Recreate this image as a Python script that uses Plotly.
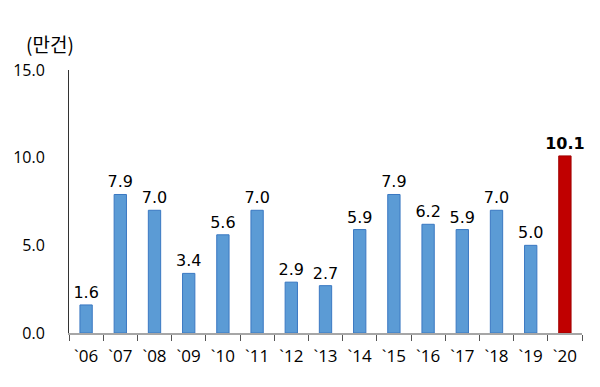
import plotly.graph_objects as go

years = ["`06", "`07", "`08", "`09", "`10", "`11", "`12", "`13", "`14", "`15", "`16", "`17", "`18", "`19", "`20"]
values = [1.6, 7.9, 7.0, 3.4, 5.6, 7.0, 2.9, 2.7, 5.9, 7.9, 6.2, 5.9, 7.0, 5.0, 10.1]
y_ticks = [0, 5, 10, 15]
y_tick_labels = ["0.0", "5.0", "10.0", "15.0"]
unit_label = "(만건)"

blue = "#5B9BD5"
blue_line = "#3A78C2"
red = "#C00000"
colors = [blue] * (len(values) - 1) + [red]
line_colors = [blue_line] * (len(values) - 1) + ["#A00000"]
texts = [f"{v:.1f}" for v in values[:-1]] + [f"<b>{values[-1]:.1f}</b>"]

font_family = "Noto Sans CJK KR, Noto Sans, sans-serif"
latin_font = "DejaVu Sans, sans-serif"
axis_font = "Open Sans, Noto Sans, sans-serif"

fig = go.Figure(go.Bar(
    x=years, y=values,
    marker=dict(color=colors, line=dict(color=line_colors, width=1)),
    text=texts, textposition="outside", cliponaxis=False, constraintext="none",
    textfont=dict(size=16, color="black", family=latin_font),
))

fig.update_layout(
    width=600, height=387,
    margin=dict(l=61, r=26, t=62, b=62, autoexpand=False),
    plot_bgcolor="white", paper_bgcolor="white",
    bargap=0.64, showlegend=False,
    font=dict(family=font_family, color="black"),
    xaxis=dict(
        showline=True, linecolor="#A6A6A6", linewidth=2,
        ticks="outside", tickson="boundaries", ticklen=6, tickcolor="#555555",
        tickfont=dict(size=17, color="black", family=axis_font), showgrid=False,
        tickangle=0, automargin=False, ticklabelstandoff=7,
    ),
    yaxis=dict(
        range=[0, 15], tickvals=y_ticks, ticktext=y_tick_labels,
        showline=True, linecolor="#333333", linewidth=1,
        ticks="", showgrid=False, zeroline=False, automargin=False,
        tickfont=dict(size=16, color="black", family=axis_font), ticklabelstandoff=20,
    ),
    annotations=[dict(
        text=unit_label, xref="paper", yref="paper", x=-0.037, y=1.0, yshift=27,
        xanchor="center", yanchor="middle", showarrow=False,
        font=dict(size=19, color="black", family=font_family),
    )],
)

fig.write_html("out.html")
